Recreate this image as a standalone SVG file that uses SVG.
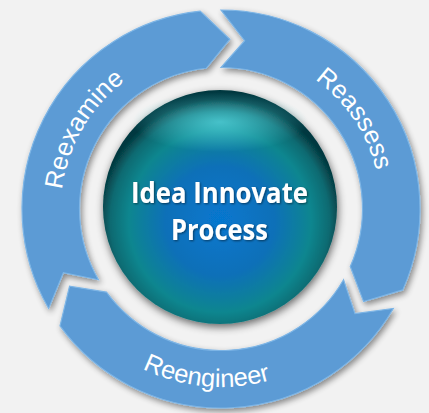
<svg xmlns="http://www.w3.org/2000/svg" width="429" height="413" viewBox="0 0 429 413">
  <defs>
    <filter id="shadow" x="-20%" y="-20%" width="140%" height="140%">
      <feGaussianBlur in="SourceAlpha" stdDeviation="3"/>
      <feOffset dx="2" dy="3" result="b"/>
      <feComponentTransfer><feFuncA type="linear" slope="0.45"/></feComponentTransfer>
      <feMerge><feMergeNode/><feMergeNode in="SourceGraphic"/></feMerge>
    </filter>
    <filter id="sphereShadow" x="-20%" y="-20%" width="140%" height="140%">
      <feGaussianBlur in="SourceAlpha" stdDeviation="4"/>
      <feOffset dx="1" dy="3" result="b"/>
      <feComponentTransfer><feFuncA type="linear" slope="0.6"/></feComponentTransfer>
      <feMerge><feMergeNode/><feMergeNode in="SourceGraphic"/></feMerge>
    </filter>
    <filter id="textShadow" x="-10%" y="-20%" width="120%" height="140%">
      <feGaussianBlur in="SourceAlpha" stdDeviation="1"/>
      <feOffset dx="1" dy="1" result="b"/>
      <feComponentTransfer><feFuncA type="linear" slope="0.5"/></feComponentTransfer>
      <feMerge><feMergeNode/><feMergeNode in="SourceGraphic"/></feMerge>
    </filter>
    <radialGradient id="sphereGrad" cx="50%" cy="56%" r="52%">
      <stop offset="0" stop-color="#0677cf"/>
      <stop offset="0.45" stop-color="#0a70b8"/>
      <stop offset="0.75" stop-color="#0c868f"/>
      <stop offset="0.9" stop-color="#0a6a71"/>
      <stop offset="1" stop-color="#05393f"/>
    </radialGradient>
    <radialGradient id="hiGrad" cx="50%" cy="50%" r="50%">
      <stop offset="0" stop-color="#5fe0e8" stop-opacity="0.7"/>
      <stop offset="1" stop-color="#5fe0e8" stop-opacity="0"/>
    </radialGradient>
    <path id="tpReexamine" d="M82.44,289 A160,160 0 0,1 221,49"/>
    <path id="tpReassess" d="M209.84,49.39 A160,160 0 0,1 364.81,279.14"/>
    <path id="tpReengineer" d="M84.64,323.42 A178,178 0 0,0 335.42,345.36"/>
  </defs>
  <style>
    .arrow { fill: #5b9bd5; stroke: #7db5e6; stroke-width: 1.2; stroke-linejoin: miter; }
    .label { font-family: "Liberation Sans", Arial, sans-serif; font-size: 25.5px; fill: #ffffff; }
    .center { font-family: "Open Sans", "Liberation Sans", sans-serif; font-weight: bold; font-size: 28px; fill: #ffffff; }
  </style>
  <rect x="0" y="0" width="429" height="413" fill="#f2f2f2"/>

  <g id="connectors" filter="url(#shadow)">
    <path id="arrow-reexamine" class="arrow" d="M48.66,308.50 A199,199 0 0,1 200.20,11.09 L229.90,39.23 L206.21,68.27 A141.5,141.5 0 0,0 98.46,279.75 L63.38,272.68 Z"/>
    <path id="arrow-reassess" class="arrow" d="M221,10 A199,199 0 0,1 402.80,289.94 L363.57,301.59 L350.27,266.55 A141.5,141.5 0 0,0 221,67.5 L244.66,40.65 Z"/>
    <path id="arrow-reengineer" class="arrow" d="M393.34,308.50 A199,199 0 0,1 60.01,325.97 L69.53,286.18 L106.52,292.17 A141.5,141.5 0 0,0 343.54,279.75 L354.96,313.66 Z"/>
  </g>

  <g id="node-reexamine">
    <text class="label"><textPath href="#tpReexamine" startOffset="50%" text-anchor="middle">Reexamine</textPath></text>
  </g>
  <g id="node-reassess">
    <text class="label"><textPath href="#tpReassess" startOffset="50%" text-anchor="middle">Reassess</textPath></text>
  </g>
  <g id="node-reengineer">
    <text class="label"><textPath href="#tpReengineer" startOffset="50%" text-anchor="middle">Reengineer</textPath></text>
  </g>

  <g id="node-center">
    <circle cx="220" cy="207" r="117" fill="url(#sphereGrad)" filter="url(#sphereShadow)"/>
    <ellipse cx="220" cy="122" rx="88" ry="30" fill="url(#hiGrad)"/>
    <g filter="url(#textShadow)">
      <text class="center" x="219.5" y="203" text-anchor="middle" textLength="177" lengthAdjust="spacingAndGlyphs">Idea Innovate</text>
      <text class="center" x="219.5" y="240" text-anchor="middle" textLength="97" lengthAdjust="spacingAndGlyphs">Process</text>
    </g>
  </g>
</svg>
